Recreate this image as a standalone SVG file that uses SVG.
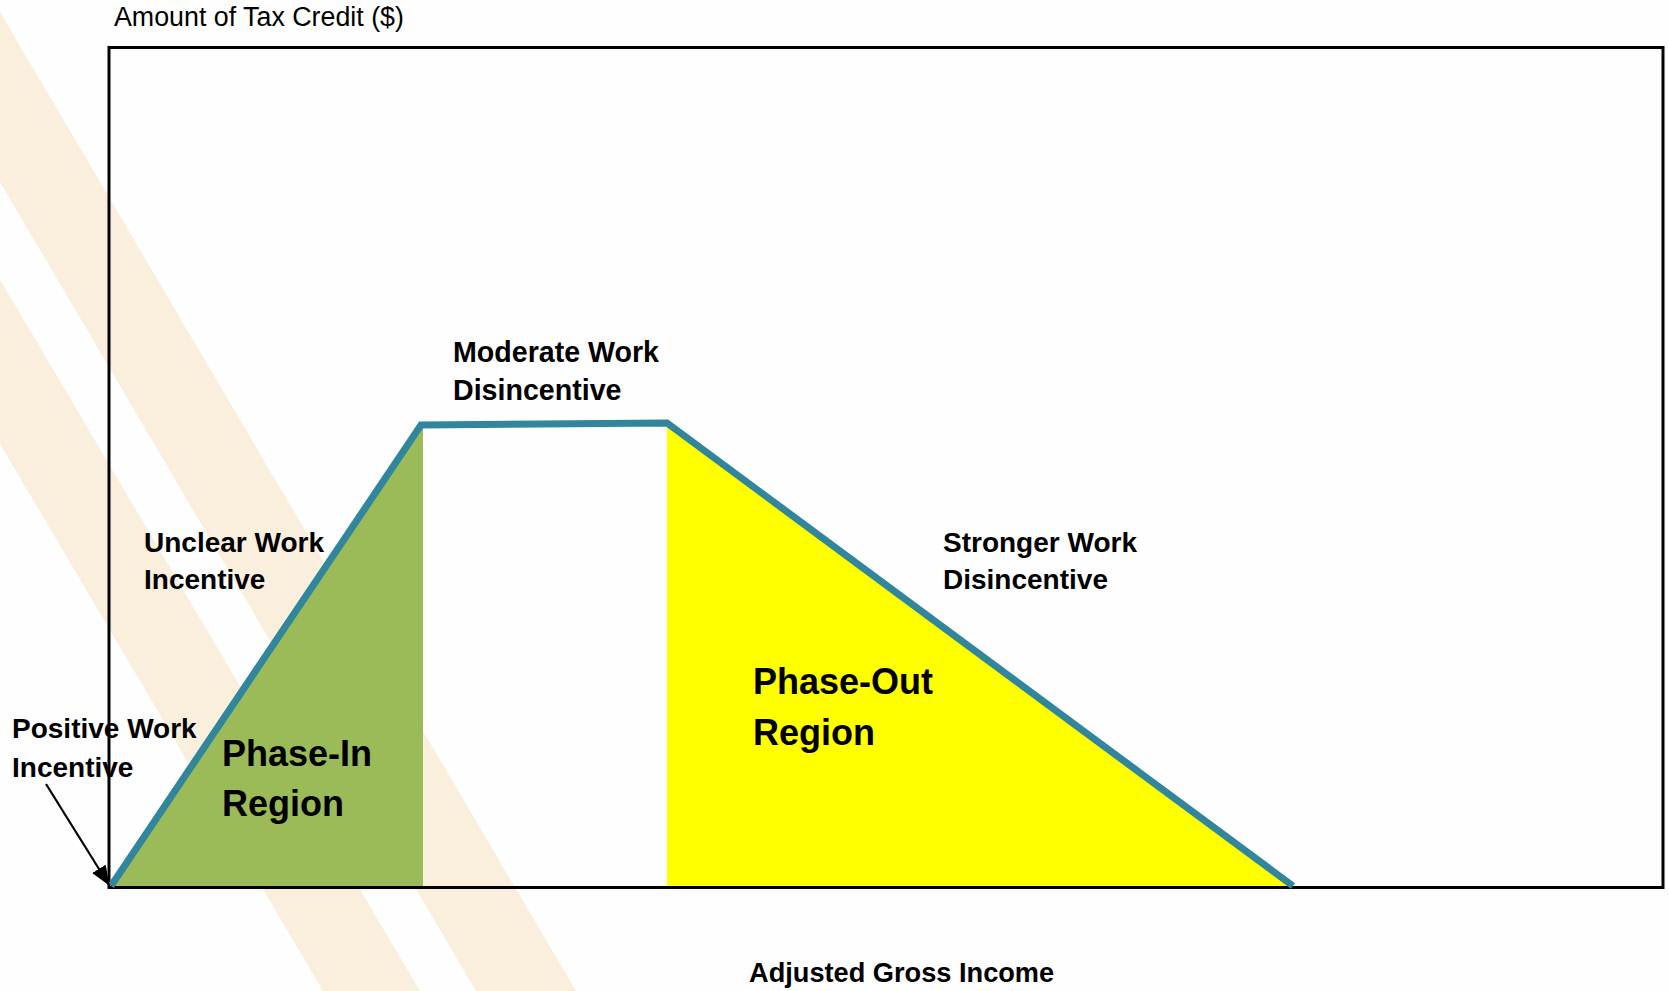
<svg xmlns="http://www.w3.org/2000/svg" width="1669" height="991" viewBox="0 0 1669 991">
  <defs>
    <style>
      .band { fill: #FAEEDC; }
      .frame { fill: none; stroke: #000000; stroke-width: 3; }
      .curve { fill: none; stroke: #31859C; stroke-width: 7; stroke-linejoin: miter; stroke-linecap: butt; }
      .lbl { font-family: "Liberation Sans", Arial, sans-serif; font-weight: bold; font-size: 28px; fill: #000000; }
      .lbl-mod { font-size: 28.6px; }
      .lbl-x { font-size: 27.2px; }
      .big { font-family: "Liberation Sans", Arial, sans-serif; font-weight: bold; font-size: 36px; fill: #000000; }
      .axis { font-family: "Liberation Sans", Arial, sans-serif; font-size: 26.8px; fill: #000000; }
      .arrow { fill: none; stroke: #000000; stroke-width: 2.2; }
    </style>
    <marker id="arrowhead" markerWidth="20" markerHeight="16" refX="19" refY="8" orient="auto" markerUnits="userSpaceOnUse">
      <path d="M0,0 L20,8 L0,16 Z" fill="#000000"/>
    </marker>
  </defs>

  <rect x="0" y="0" width="1669" height="991" fill="#FEFEFE"/>

  <g id="background-bands">
    <polygon class="band" points="-7,0 576,991 476,991 -107,0"/>
    <polygon class="band" points="-165,0 420,991 323,991 -262,0"/>
  </g>

  <g id="phase-in-area">
    <polygon points="111,887 421,425 423,425 423,887" fill="#9BBB59"/>
  </g>
  <g id="phase-out-area">
    <polygon points="667,423 667,887 1293,887" fill="#FFFF00"/>
  </g>

  <g id="chart-frame">
    <rect class="frame" x="109" y="47.5" width="1554" height="840"/>
  </g>

  <g id="connectors">
    <polyline id="credit-curve" class="curve" points="111,886 421,425 667,423 1293,886"/>
    <line id="positive-arrow" class="arrow" x1="46" y1="784" x2="109" y2="885" marker-end="url(#arrowhead)"/>
  </g>

  <g id="y-axis-title">
    <text class="axis" x="114" y="26">Amount of Tax Credit ($)</text>
  </g>
  <g id="x-axis-title">
    <text class="lbl lbl-x" x="749" y="982">Adjusted Gross Income</text>
  </g>
  <g id="moderate-label">
    <text class="lbl lbl-mod" x="453" y="362">Moderate Work</text>
    <text class="lbl lbl-mod" x="453" y="400">Disincentive</text>
  </g>
  <g id="unclear-label">
    <text class="lbl" x="144" y="552">Unclear Work</text>
    <text class="lbl" x="144" y="589">Incentive</text>
  </g>
  <g id="stronger-label">
    <text class="lbl" x="943" y="552">Stronger Work</text>
    <text class="lbl" x="943" y="589">Disincentive</text>
  </g>
  <g id="positive-label">
    <text class="lbl" x="12" y="738">Positive Work</text>
    <text class="lbl" x="12" y="777">Incentive</text>
  </g>
  <g id="phase-in-label">
    <text class="big" x="222" y="766">Phase-In</text>
    <text class="big" x="222" y="816">Region</text>
  </g>
  <g id="phase-out-label">
    <text class="big" x="753" y="694">Phase-Out</text>
    <text class="big" x="753" y="745">Region</text>
  </g>
</svg>
